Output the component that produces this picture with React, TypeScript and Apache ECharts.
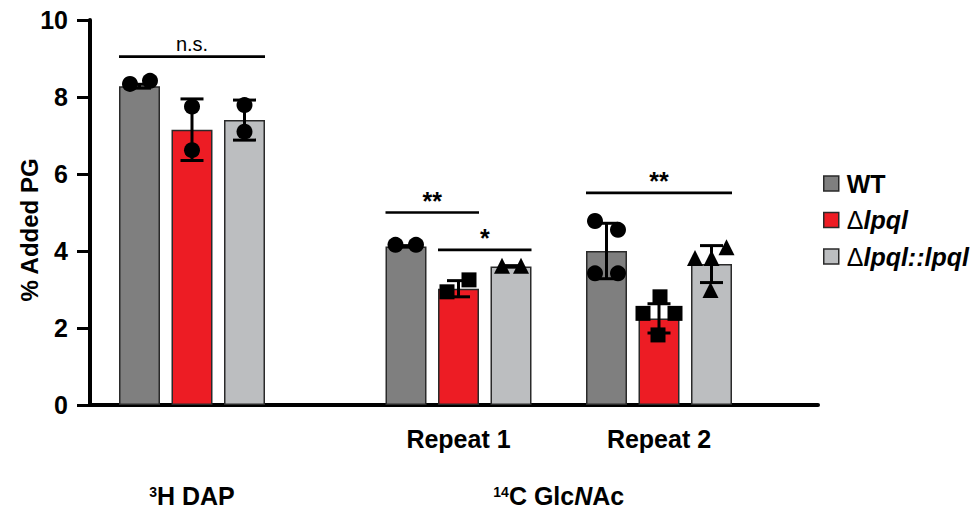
import React, { useEffect, useRef } from "react";
import * as echarts from "echarts";

// ---- data ----
const repeatLabels = ["Repeat 1", "Repeat 2"];
const seriesNames = ["WT", "Δlpql", "Δlpql::lpql"];

const wtMeans = [8.28, 4.12, 4.0];
const mutMeans = [7.15, 3.02, 2.25];
const compMeans = [7.4, 3.6, 3.66];

const wtSD = [0.05, 0.02, 0.72];
const mutSD = [0.8, 0.21, 0.38];
const compSD = [0.52, 0.02, 0.48];

const wtPoints = [[8.34, 8.42], [4.16, 4.16], [4.78, 4.55, 3.42, 3.42]];
const mutPoints = [[7.75, 6.62], [2.94, 3.25], [2.38, 2.38, 2.81, 1.82]];
const compPoints = [[7.79, 7.1], [3.62, 3.62], [3.82, 3.82, 4.1, 2.99]];

const sigLabels = ["n.s.", "**", "*", "**"];
const sigLevels = [9.05, 5.0, 4.03, 5.51];
// [group, fromBar, toBar]
const sigSpans = [
  [0, 0, 2],
  [1, 0, 1],
  [1, 1, 2],
  [2, 0, 2],
];

const yTicks = [0, 2, 4, 6, 8, 10];

// ---- layout / style ----
const X_MAX = 728;
const groupX = [102, 368.5, 569];
const barOffsets = [-52.5, 0, 52.5];
const BAR_W = 41;
const wtJitter = [[-9.5, 10.5], [-10.5, 10], [-11.5, 11.5, -11.5, 11.5]];
const mutJitter = [[0, 0], [-11.5, 10.5], [-16, 16, 1, -1]];
const compJitter = [[0, 0], [-9, 10], [-16.5, 0, 15, -1]];
// marker shape per series (rows) and group (columns)
const pointSymbols = [
  ["circle", "circle", "circle"],
  ["circle", "rect", "rect"],
  ["circle", "triangle", "triangle"],
];
const symbolSizes: Record<string, number> = { circle: 16, rect: 15, triangle: 16 };

const FONT = '"Liberation Sans", Arial, Helvetica, sans-serif';
const colors = ["#7F7F7F", "#ED1C24", "#BCBEC0"];

export default function App() {
  const ref = useRef<HTMLDivElement>(null);
  useEffect(() => {
    const chart = echarts.init(ref.current!, null, { renderer: "svg" });
    const means = [wtMeans, mutMeans, compMeans];
    const sds = [wtSD, mutSD, compSD];
    const pts = [wtPoints, mutPoints, compPoints];
    const jit = [wtJitter, mutJitter, compJitter];

    const barSeries = seriesNames.map((name, s) => ({
      type: "bar",
      name,
      barWidth: BAR_W,
      barGap: "-100%",
      z: 2,
      itemStyle: { color: colors[s], borderColor: "#2a2a2a", borderWidth: 1.5 },
      data: means[s].map((v, g) => [groupX[g] + barOffsets[s], v]),
    }));

    const errData: number[][] = [];
    means.forEach((arr, s) =>
      arr.forEach((v, g) => errData.push([groupX[g] + barOffsets[s], v, sds[s][g]]))
    );

    const errSeries = {
      type: "custom",
      name: "err",
      z: 3,
      data: errData,
      encode: { x: 0, y: 1 },
      renderItem: (params: any, api: any) => {
        const x = api.value(0);
        const m = api.value(1);
        const sd = api.value(2);
        const top = api.coord([x, m + sd]);
        const bot = api.coord([x, m - sd]);
        const half = 11.5;
        const style = { stroke: "#000", lineWidth: 3 };
        return {
          type: "group",
          children: [
            { type: "line", shape: { x1: top[0], y1: top[1], x2: bot[0], y2: bot[1] }, style },
            { type: "line", shape: { x1: top[0] - half, y1: top[1], x2: top[0] + half, y2: top[1] }, style },
            { type: "line", shape: { x1: bot[0] - half, y1: bot[1], x2: bot[0] + half, y2: bot[1] }, style },
          ],
        };
      },
    };

    const pointSeries = seriesNames.map((name, s) => {
      const data: any[] = [];
      pts[s].forEach((vals, g) =>
        vals.forEach((v, k) => {
          const sym = pointSymbols[s][g];
          data.push({
            value: [groupX[g] + barOffsets[s] + jit[s][g][k], v],
            symbol: sym,
            symbolSize: symbolSizes[sym],
          });
        })
      );
      return {
        type: "scatter",
        name: name + " points",
        z: 4,
        itemStyle: { color: "#000", opacity: 1 },
        data,
      };
    });

    const sigData = sigSpans.map(([g, a, b], i) => [
      groupX[g] + barOffsets[a] - BAR_W / 2,
      groupX[g] + barOffsets[b] + BAR_W / 2,
      sigLevels[i],
    ]);

    const sigSeries = {
      type: "custom",
      name: "sig",
      z: 5,
      data: sigData,
      encode: { x: [0, 1], y: 2 },
      renderItem: (params: any, api: any) => {
        const p1 = api.coord([api.value(0), api.value(2)]);
        const p2 = api.coord([api.value(1), api.value(2)]);
        const label = sigLabels[params.dataIndex];
        const isNs = label === "n.s.";
        const ty = isNs ? p1[1] - 3 : p1[1] + 1;
        return {
          type: "group",
          children: [
            {
              type: "line",
              shape: { x1: p1[0], y1: p1[1], x2: p2[0], y2: p2[1] },
              style: { stroke: "#000", lineWidth: 2.6 },
            },
            {
              type: "text",
              x: (p1[0] + p2[0]) / 2,
              y: ty,
              style: {
                text: label,
                fill: "#000",
                font: isNs ? `normal 20px ${FONT}` : `bold 25px ${FONT}`,
                align: "center",
                verticalAlign: "bottom",
                textAlign: "center",
                textVerticalAlign: "bottom",
              },
            },
          ],
        };
      },
    };

    const repeatPos = [groupX[1], groupX[2]];
    const groupPos = [groupX[0], (groupX[1] + groupX[2]) / 2];

    chart.setOption({
      animation: false,
      grid: { left: 90, right: 162, top: 20, bottom: 103, outerBoundsMode: "none" },
      legend: {
        data: seriesNames,
        orient: "vertical",
        left: 818,
        top: 166,
        itemWidth: 15,
        itemHeight: 15,
        itemGap: 11.5,
        icon: "rect",
        itemStyle: { borderColor: "#2a2a2a", borderWidth: 1.5 },
        formatter: (name: string) => {
          if (name === "WT") return "{b|WT}";
          if (name === "Δlpql") return "{d|Δ}{i|lpql}";
          return "{d|Δ}{i|lpql::lpql}";
        },
        textStyle: {
          fontSize: 25,
          fontFamily: FONT,
          color: "#000",
          padding: [0, 0, 0, 3],
          rich: {
            b: { fontSize: 25, fontWeight: "bold", fontFamily: FONT, color: "#000", lineHeight: 25 },
            d: { fontSize: 25, fontWeight: "normal", fontFamily: FONT, color: "#000", lineHeight: 25 },
            i: { fontSize: 25, fontWeight: "bold", fontStyle: "italic", fontFamily: FONT, color: "#000", lineHeight: 25 },
          },
        },
      },
      xAxis: [
        {
          type: "value",
          min: 0,
          max: X_MAX,
          axisLine: { show: true, lineStyle: { color: "#000", width: 4 } },
          axisTick: { show: false },
          splitLine: { show: false },
          axisLabel: {
            customValues: repeatPos,
            formatter: (v: number) => repeatLabels[repeatPos.indexOf(v)] ?? "",
            margin: 21,
            fontSize: 25,
            fontWeight: "bold",
            fontFamily: FONT,
            color: "#000",
          },
        },
        {
          type: "value",
          min: 0,
          max: X_MAX,
          position: "bottom",
          axisLine: { show: false },
          axisTick: { show: false },
          splitLine: { show: false },
          axisLabel: {
            customValues: groupPos,
            formatter: (v: number) =>
              groupPos.indexOf(v) === 0 ? "{s|3}{b|H DAP}" : "{s|14}{b|C Glc}{i|N}{b|Ac}",
            margin: 80,
            color: "#000",
            rich: {
              s: { fontSize: 14, fontWeight: "bold", fontFamily: FONT, color: "#000", verticalAlign: "top", lineHeight: 21 },
              b: { fontSize: 25, fontWeight: "bold", fontFamily: FONT, color: "#000", lineHeight: 21 },
              i: { fontSize: 25, fontWeight: "bold", fontStyle: "italic", fontFamily: FONT, color: "#000", lineHeight: 21 },
            },
          },
        },
      ],
      yAxis: {
        type: "value",
        min: yTicks[0],
        max: yTicks[yTicks.length - 1],
        interval: 2,
        axisLine: { show: true, lineStyle: { color: "#000", width: 4 } },
        axisTick: { show: true, length: 13, lineStyle: { color: "#000", width: 3 } },
        splitLine: { show: false },
        axisLabel: { margin: 22, fontSize: 25, fontWeight: "bold", fontFamily: FONT, color: "#000" },
      },
      graphic: [
        {
          type: "text",
          x: 29,
          y: 230,
          rotation: Math.PI / 2,
          style: {
            text: "% Added PG",
            font: `bold 24px ${FONT}`,
            fill: "#000",
            align: "center",
            verticalAlign: "middle",
            textAlign: "center",
            textVerticalAlign: "middle",
          },
        },
      ],
      series: [...barSeries, errSeries, ...pointSeries, sigSeries],
    });
    return () => chart.dispose();
  }, []);
  return (
    <div
      ref={ref}
      style={{ position: "fixed", left: 0, top: 0, width: 980, height: 508, background: "#fff" }}
    />
  );
}
